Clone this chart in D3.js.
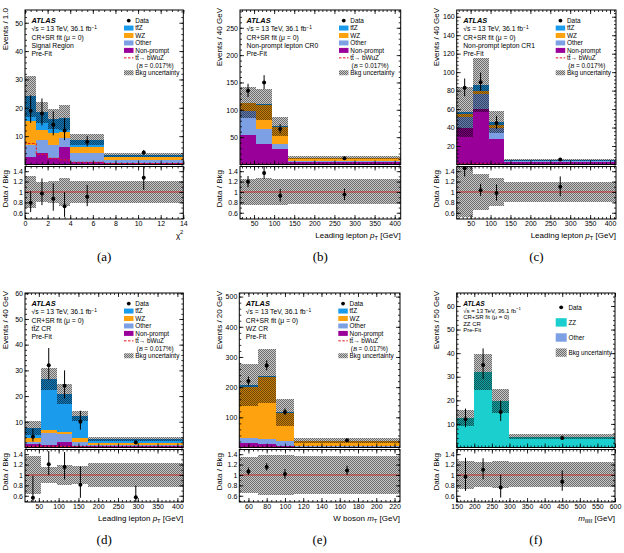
<!DOCTYPE html>
<html>
<head>
<meta charset="utf-8">
<script src="https://cdn.jsdelivr.net/npm/d3@7"></script>
<style>
  body { margin: 0; background: #fff; }
  svg { display: block; font-family: "Liberation Sans", Arial, sans-serif; }
</style>
</head>
<body>
<svg id="chart" width="624" height="553"></svg>
<script>
const colTtZ = "#1a9bec", colWZ = "#fea30f", colOther = "#7d9fe4", colNP = "#990099", colZZ = "#1ccfcf";

// tick label arrays
const chiTicks = [0, 2, 4, 6, 8, 10, 12, 14];
const ptTicks = [50, 100, 150, 200, 250, 300, 350, 400];
const mtTicks = [60, 80, 100, 120, 140, 160, 180, 200, 220];
const m4lTicks = [150, 200, 250, 300, 350, 400, 450, 500, 550, 600];
const ratioTicks = [0.6, 0.8, 1, 1.2, 1.4];
const srYTicks = [10, 20, 30, 40, 50];
const cr0YTicks = [50, 100, 150, 200, 250];
const cr1YTicks = [20, 40, 60, 80, 100, 120, 140, 160];
const ttzYTicks = [10, 20, 30, 40, 50, 60];
const wzYTicks = [100, 200, 300, 400, 500];
const zzYTicks = [10, 20, 30, 40, 50, 60];

// (a) signal region, chi2
const srEdges = [0, 1, 2, 3, 4, 7, 14];
const srNonPrompt = [2.7, 3.9, 2.3, 6.2, 1.0, 0.4];
const srOther = [4.1, 4.7, 4.5, 3.0, 2.9, 1.1];
const srWZ = [8.6, 3.4, 4.3, 2.3, 2.3, 1.2];
const srTtZ = [8.6, 6.5, 5.0, 5.0, 2.6, 0.6];
const srSignal = [7.4, 3.6, 2.2, 1.6, 0.8, 0.3];
const srData = [19, 18, 14, 12, 8.0, 4.2];
const srErrUp = [5.4, 5.3, 4.8, 4.5, 2.0, 0.93];
const srErrDn = [4.3, 4.2, 3.7, 3.4, 1.6, 0.77];
const srUnc = [0.30, 0.20, 0.22, 0.27, 0.21, 0.21];

// (b) non-prompt CR0, leading lepton pT
const cr0Edges = [15, 55, 95, 135, 415];
const cr0NonPrompt = [54, 38, 27.5, 4];
const cr0Other = [43, 27, 10.5, 3];
const cr0WZ = [15, 44, 31, 4];
const cr0TtZ = [1, 1, 1, 1.2];
const cr0Signal = [0.4, 0.4, 0.3, 0.1];
const cr0Data = [135, 150, 65, 11.6];
const cr0ErrUp = [12.6, 13.3, 9.1, 1.4];
const cr0ErrDn = [11.6, 12.2, 8.0, 1.3];
const cr0Unc = [0.25, 0.26, 0.25, 0.24];

// (c) non-prompt CR1
const cr1Edges = [15, 55, 95, 135, 415];
const cr1NonPrompt = [40, 60, 28, 2.5];
const cr1Other = [11.6, 16, 11, 1];
const cr1WZ = [3, 4, 3.5, 0.5];
const cr1TtZ = [2.4, 6, 3.5, 1];
const cr1Signal = [0.5, 0.6, 0.3, 0.05];
const cr1Data = [83, 89, 45, 5.5];
const cr1ErrUp = [10.1, 10.5, 7.7, 1.0];
const cr1ErrDn = [9.1, 9.4, 6.7, 0.9];
const cr1Unc = [0.48, 0.34, 0.27, 0.2];

// (d) ttZ CR
const ttzEdges = [15, 55, 95, 135, 175, 415];
const ttzNonPrompt = [1.2, 1.0, 2.0, 0.6, 0.5];
const ttzOther = [1.0, 4.5, 3.2, 1.4, 0.5];
const ttzWZ = [1.6, 1.5, 0.9, 1.6, 0.8];
const ttzTtZ = [3.7, 19.5, 14.7, 8.7, 1.6];
const ttzSignal = [0.3, 0.5, 0.4, 0.3, 0.1];
const ttzData = [4.2, 32, 24, 10, 1.95];
const ttzErrUp = [3.2, 6.7, 6.0, 4.3, 0.75];
const ttzErrDn = [1.9, 5.6, 5.0, 3.1, 0.57];
const ttzUnc = [0.36, 0.16, 0.19, 0.17, 0.23];

// (e) WZ CR, W boson mT
const wzEdges = [50, 70, 90, 110, 226];
const wzNonPrompt = [15, 10, 5, 2];
const wzOther = [18, 18, 17, 2];
const wzWZ = [169, 205, 92, 17];
const wzTtZ = [4, 3, 2, 1.5];
const wzSignal = [1, 1, 0.5, 0.2];
const wzData = [220, 272, 118, 24.4];
const wzErrUp = [15.3, 17, 11.4, 2.1];
const wzErrDn = [14.3, 16, 10.4, 1.9];
const wzUnc = [0.34, 0.38, 0.39, 0.37];

// (f) ZZ CR
const zzEdges = [150, 200, 250, 300, 600];
const zzOther = [0.3, 0.3, 0.3, 0.15];
const zzZZ = [12.1, 31.5, 19.5, 4.45];
const zzData = [12, 35, 15, 4];
const zzErrUp = [4.5, 7, 4.9, 1.0];
const zzErrDn = [3.4, 5.9, 3.8, 0.8];
const zzUnc = [0.27, 0.24, 0.26, 0.24];

const mainH = 154.5, ratioTop = 156.5, ratioBot = 209;
const ratioDomain = [0.48, 1.49];
const ptTitle = [["Leading lepton ", "n"], ["p", "i"], ["T", "sub"], [" [GeV]", "n"]];

const panels = [
  { key: "a", tag: "(a)", left: 25, right: 183.3, top: 10, xDomain: [0, 14], edges: srEdges, xTicks: chiTicks, xMinor: 0.5,
    yMax: 54.5, yTicks: srYTicks, yMinor: 2, yTitle: "Events / 1.0", yTitleX: 5, region: [["Signal Region", "n"]],
    stack: [[srNonPrompt, colNP], [srOther, colOther], [srWZ, colWZ], [srTtZ, colTtZ]], signal: srSignal,
    data: srData, up: srErrUp, dn: srErrDn, unc: srUnc, xTitle: [["χ", "n"], ["2", "sup"]] },
  { key: "b", tag: "(b)", left: 240, right: 400.7, top: 10, xDomain: [15, 415], edges: cr0Edges, xTicks: ptTicks, xMinor: 10,
    yMax: 282.5, yTicks: cr0YTicks, yMinor: 10, yTitle: "Events / 40 GeV", yTitleX: 219, region: [["Non-prompt lepton CR0", "n"]],
    stack: [[cr0NonPrompt, colNP], [cr0Other, colOther], [cr0WZ, colWZ], [cr0TtZ, colTtZ]], signal: cr0Signal,
    data: cr0Data, up: cr0ErrUp, dn: cr0ErrDn, unc: cr0Unc, xTitle: ptTitle },
  { key: "c", tag: "(c)", left: 456.7, right: 616, top: 10, xDomain: [15, 415], edges: cr1Edges, xTicks: ptTicks, xMinor: 10,
    yMax: 167.3, yTicks: cr1YTicks, yMinor: 4, yTitle: "Events / 40 GeV", yTitleX: 435.7, region: [["Non-prompt lepton CR1", "n"]],
    stack: [[cr1NonPrompt, colNP], [cr1Other, colOther], [cr1WZ, colWZ], [cr1TtZ, colTtZ]], signal: cr1Signal,
    data: cr1Data, up: cr1ErrUp, dn: cr1ErrDn, unc: cr1Unc, xTitle: ptTitle },
  { key: "d", tag: "(d)", left: 25, right: 183.3, top: 293, xDomain: [15, 415], edges: ttzEdges, xTicks: ptTicks, xMinor: 10,
    yMax: 60.1, yTicks: ttzYTicks, yMinor: 2, yTitle: "Events / 40 GeV", yTitleX: 5, region: [["tt\u0304Z CR", "n"]],
    stack: [[ttzNonPrompt, colNP], [ttzOther, colOther], [ttzWZ, colWZ], [ttzTtZ, colTtZ]], signal: ttzSignal,
    data: ttzData, up: ttzErrUp, dn: ttzErrDn, unc: ttzUnc, xTitle: ptTitle },
  { key: "e", tag: "(e)", left: 239.3, right: 400, top: 293, xDomain: [50, 226], edges: wzEdges, xTicks: mtTicks, xMinor: 5,
    yMax: 512, yTicks: wzYTicks, yMinor: 20, yTitle: "Events / 20 GeV", yTitleX: 219, region: [["WZ CR", "n"]],
    stack: [[wzNonPrompt, colNP], [wzOther, colOther], [wzWZ, colWZ], [wzTtZ, colTtZ]], signal: wzSignal,
    data: wzData, up: wzErrUp, dn: wzErrDn, unc: wzUnc, xTitle: [["W boson ", "n"], ["m", "i"], ["T", "sub"], [" [GeV]", "n"]] },
  { key: "f", tag: "(f)", left: 456.7, right: 615, top: 293, xDomain: [150, 600], edges: zzEdges, xTicks: m4lTicks, xMinor: 10,
    yMax: 65.5, yTicks: zzYTicks, yMinor: 2, yTitle: "Events / 50 GeV", yTitleX: 435.7, region: [["ZZ CR", "n"]],
    stack: [[zzOther, colOther], [zzZZ, colZZ]], signal: null,
    data: zzData, up: zzErrUp, dn: zzErrDn, unc: zzUnc, xTitle: [["m", "i"], ["\u2113\u2113\u2113\u2113", "sub"], [" [GeV]", "n"]], small: true }
];

const svg = d3.select("#chart");
const defs = svg.append("defs");
// soft checkerboard for the uncertainty band
const hatch = defs.append("pattern").attr("id", "hatch")
  .attr("width", 2).attr("height", 2).attr("patternUnits", "userSpaceOnUse");
hatch.append("rect").attr("width", 2).attr("height", 2).attr("fill", "#000").attr("fill-opacity", 0.22);
hatch.append("rect").attr("width", 1).attr("height", 1).attr("fill", "#000").attr("fill-opacity", 0.45);
hatch.append("rect").attr("x", 1).attr("y", 1).attr("width", 1).attr("height", 1).attr("fill", "#000").attr("fill-opacity", 0.45);

// text with italic / sub / sup pieces
function richText(sel, segs, size) {
  let shift = 0;
  segs.forEach(([t, kind]) => {
    let target = 0, fs = size;
    if (kind === "sub") { target = size * 0.3; fs = size * 0.72; }
    if (kind === "sup") { target = -size * 0.4; fs = size * 0.72; }
    const ts = sel.append("tspan").attr("dy", target - shift).style("font-size", fs + "px").text(t);
    if (kind === "i") ts.style("font-style", "italic");
    if (kind === "b") ts.style("font-weight", "bold").style("font-style", "italic");
    shift = target;
  });
  return sel;
}

function minorVals(domain, step) {
  const lo = Math.ceil(domain[0] / step - 1e-9) * step;
  return d3.range(lo, domain[1] + 1e-9, step);
}

function tickAxis(g, axis, transform, values, size, labels, fs) {
  const a = g.append("g").attr("transform", transform)
    .call(axis.tickValues(values).tickSize(-size).tickPadding(2)
      .tickFormat(labels ? d3.format("~g") : ""));
  a.select(".domain").remove();
  a.selectAll("line").attr("stroke", "#000").attr("stroke-width", 0.8);
  a.selectAll("text").attr("fill", "#000").style("font-size", fs + "px")
    .style("font-family", "'Liberation Sans', Arial, sans-serif");
  return a;
}

function frameTicks(g, x, y, xt, xMinor, yt, yMinor, x0, x1, y0, y1, xLabels, fs) {
  tickAxis(g, d3.axisBottom(x), `translate(0,${y0})`, xt, 4, xLabels, fs);
  tickAxis(g, d3.axisBottom(x), `translate(0,${y0})`, minorVals(x.domain(), xMinor), 2, false, fs);
  tickAxis(g, d3.axisTop(x), `translate(0,${y1})`, xt, 4, false, fs);
  tickAxis(g, d3.axisTop(x), `translate(0,${y1})`, minorVals(x.domain(), xMinor), 2, false, fs);
  tickAxis(g, d3.axisLeft(y), `translate(${x0},0)`, yt, 4, true, fs);
  tickAxis(g, d3.axisLeft(y), `translate(${x0},0)`, minorVals(y.domain(), yMinor), 2, false, fs);
  tickAxis(g, d3.axisRight(y), `translate(${x1},0)`, yt, 4, false, fs);
  tickAxis(g, d3.axisRight(y), `translate(${x1},0)`, minorVals(y.domain(), yMinor), 2, false, fs);
}

function drawPanel(p) {
  const g = svg.append("g");
  const x = d3.scaleLinear().domain(p.xDomain).range([p.left, p.right]);
  const y = d3.scaleLinear().domain([0, p.yMax]).range([p.top + mainH, p.top]);
  const yr = d3.scaleLinear().domain(ratioDomain).range([p.top + ratioBot, p.top + ratioTop]);
  const bins = d3.range(p.edges.length - 1).map(i => ({ i, x0: p.edges[i], x1: p.edges[i + 1] }));
  const totals = bins.map(b => d3.sum(p.stack, s => s[0][b.i]));

  defs.append("clipPath").attr("id", "cm" + p.key).append("rect")
    .attr("x", p.left).attr("y", p.top).attr("width", p.right - p.left).attr("height", mainH);
  defs.append("clipPath").attr("id", "cr" + p.key).append("rect")
    .attr("x", p.left).attr("y", p.top + ratioTop).attr("width", p.right - p.left).attr("height", ratioBot - ratioTop);

  // main pad
  const gm = g.append("g").attr("clip-path", `url(#cm${p.key})`);
  let base = bins.map(() => 0);
  p.stack.forEach(([vals, col]) => {
    gm.append("g").selectAll("rect").data(bins).join("rect")
      .attr("x", b => x(b.x0)).attr("width", b => x(b.x1) - x(b.x0))
      .attr("y", b => y(base[b.i] + vals[b.i]))
      .attr("height", b => y(base[b.i]) - y(base[b.i] + vals[b.i]))
      .attr("fill", col).attr("shape-rendering", "crispEdges");
    base = base.map((v, i) => v + vals[i]);
  });
  gm.append("g").selectAll("rect").data(bins).join("rect")
    .attr("x", b => x(b.x0)).attr("width", b => x(b.x1) - x(b.x0))
    .attr("y", b => y(totals[b.i] * (1 + p.unc[b.i])))
    .attr("height", b => y(totals[b.i] * (1 - p.unc[b.i])) - y(totals[b.i] * (1 + p.unc[b.i])))
    .attr("fill", "url(#hatch)").attr("shape-rendering", "crispEdges");

  if (p.signal) {
    const pts = [[p.edges[0], 0]];
    bins.forEach(b => { pts.push([b.x0, p.signal[b.i]]); pts.push([b.x1, p.signal[b.i]]); });
    pts.push([p.edges[p.edges.length - 1], 0]);
    gm.append("path").attr("d", d3.line().x(d => x(d[0])).y(d => y(d[1]))(pts))
      .attr("fill", "none").attr("stroke", "#e8191e").attr("stroke-width", 1).attr("stroke-dasharray", "2.5,1.5");
  }

  const gd = gm.append("g");
  gd.selectAll("line").data(bins).join("line")
    .attr("x1", b => x((b.x0 + b.x1) / 2)).attr("x2", b => x((b.x0 + b.x1) / 2))
    .attr("y1", b => y(p.data[b.i] + p.up[b.i])).attr("y2", b => y(p.data[b.i] - p.dn[b.i]))
    .attr("stroke", "#000").attr("stroke-width", 1);
  gd.selectAll("circle").data(bins).join("circle")
    .attr("cx", b => x((b.x0 + b.x1) / 2)).attr("cy", b => y(p.data[b.i])).attr("r", 2).attr("fill", "#000");

  // ratio pad
  const gr = g.append("g").attr("clip-path", `url(#cr${p.key})`);
  gr.append("g").selectAll("rect").data(bins).join("rect")
    .attr("x", b => x(b.x0)).attr("width", b => x(b.x1) - x(b.x0))
    .attr("y", b => yr(1 + p.unc[b.i]))
    .attr("height", b => yr(1 - p.unc[b.i]) - yr(1 + p.unc[b.i]))
    .attr("fill", "url(#hatch)").attr("shape-rendering", "crispEdges");
  gr.append("line").attr("x1", p.left).attr("x2", p.right).attr("y1", yr(1)).attr("y2", yr(1))
    .attr("stroke", "#c8302a").attr("stroke-width", 1);
  gr.append("g").selectAll("line").data(bins).join("line")
    .attr("x1", b => x((b.x0 + b.x1) / 2)).attr("x2", b => x((b.x0 + b.x1) / 2))
    .attr("y1", b => yr((p.data[b.i] + p.up[b.i]) / totals[b.i]))
    .attr("y2", b => yr((p.data[b.i] - p.dn[b.i]) / totals[b.i]))
    .attr("stroke", "#000").attr("stroke-width", 1);
  gr.append("g").selectAll("circle").data(bins).join("circle")
    .attr("cx", b => x((b.x0 + b.x1) / 2)).attr("cy", b => yr(p.data[b.i] / totals[b.i]))
    .attr("r", 2).attr("fill", "#000");

  // ticks and frames
  frameTicks(g, x, y, p.xTicks, p.xMinor, p.yTicks, p.yMinor, p.left, p.right, p.top + mainH, p.top, false, 7);
  frameTicks(g, x, yr, p.xTicks, p.xMinor, ratioTicks, 0.1, p.left, p.right, p.top + ratioBot, p.top + ratioTop, true, 7);
  g.append("rect").attr("x", p.left).attr("y", p.top).attr("width", p.right - p.left).attr("height", mainH)
    .attr("fill", "none").attr("stroke", "#000").attr("stroke-width", 1);
  g.append("rect").attr("x", p.left).attr("y", p.top + ratioTop).attr("width", p.right - p.left).attr("height", ratioBot - ratioTop)
    .attr("fill", "none").attr("stroke", "#000").attr("stroke-width", 1);

  // axis titles
  g.append("text").attr("transform", `translate(${p.yTitleX + 3},${p.top - 2}) rotate(-90)`)
    .attr("text-anchor", "end").style("font-size", "8px").text(p.yTitle);
  g.append("text").attr("transform", `translate(${p.yTitleX + 3},${p.top + (ratioTop + ratioBot) / 2 - 4}) rotate(-90)`)
    .attr("text-anchor", "middle").style("font-size", "8px").text("Data / Bkg");
  richText(g.append("text").attr("x", p.right).attr("y", p.top + ratioBot + 18.5).attr("text-anchor", "end"), p.xTitle, 8);
  g.append("text").attr("x", (p.left + p.right) / 2).attr("y", p.top + ratioBot + 42)
    .attr("text-anchor", "middle").style("font-family", "'Liberation Serif', 'DejaVu Serif', serif")
    .style("font-size", "13px").text(p.tag);

  // ATLAS label block
  const tx = p.left + 6.5;
  const lines = [
    [["ATLAS", "b"]],
    [["\u221As = 13 TeV, 36.1 fb", "n"], ["\u22121", "sup"]],
    [["CR+SR fit (\u03BC = 0)", "n"]],
    p.region,
    [["Pre-Fit", "n"]]
  ];
  const lfs = p.small ? 6 : 6.8, lsp = p.small ? 6.5 : 8.2, l0 = p.small ? 13.3 : 13.2;
  lines.forEach((segs, i) => {
    richText(g.append("text").attr("x", tx).attr("y", p.top + l0 + i * lsp), segs, segs[0][1] === "b" ? lfs + 0.6 : lfs);
  });

  // legend
  const lx = p.left + 99;
  let entries, rowY, sw, sh, fs;
  if (p.small) {
    entries = [["Data", "data"], ["ZZ", colZZ], ["Other", colOther], ["Bkg uncertainty", "hatch"]];
    rowY = i => p.top + 14.3 + i * 15.1; sw = 11; sh = 8.4; fs = 6.3;
  } else {
    entries = [["Data", "data"], ["tt\u0304Z", colTtZ], ["WZ", colWZ], ["Other", colOther], ["Non-prompt", colNP],
      ["tt\u0304\u2192 bWuZ", "sig"], ["(B = 0.017%)", null], ["Bkg uncertainty", "hatch"]];
    rowY = i => p.top + 10.6 + i * 7.45; sw = 9.5; sh = 5; fs = 6.4;
  }
  entries.forEach(([label, sym], i) => {
    const cy = rowY(i);
    if (sym === "data") {
      g.append("circle").attr("cx", lx + sw / 2).attr("cy", cy).attr("r", 1.9).attr("fill", "#000");
    } else if (sym === "sig") {
      g.append("line").attr("x1", lx).attr("x2", lx + sw).attr("y1", cy).attr("y2", cy)
        .attr("stroke", "#e8191e").attr("stroke-width", 1).attr("stroke-dasharray", "2.5,1.5");
    } else if (sym === "hatch") {
      g.append("rect").attr("x", lx).attr("y", cy - sh / 2).attr("width", sw).attr("height", sh).attr("fill", "url(#hatch)");
    } else if (sym) {
      g.append("rect").attr("x", lx).attr("y", cy - sh / 2).attr("width", sw).attr("height", sh).attr("fill", sym);
    }
    const t = g.append("text").attr("x", lx + sw + (sym ? 1.8 : 3)).attr("y", cy + fs * 0.36).style("font-size", fs + "px");
    if (sym === null) {
      t.append("tspan").text("(");
      t.append("tspan").style("font-style", "italic").style("font-family", "'Liberation Serif', serif").text("B");
      t.append("tspan").text(" = 0.017%)");
    } else {
      t.text(label);
    }
  });
}

panels.forEach(drawPanel);
</script>
</body>
</html>
